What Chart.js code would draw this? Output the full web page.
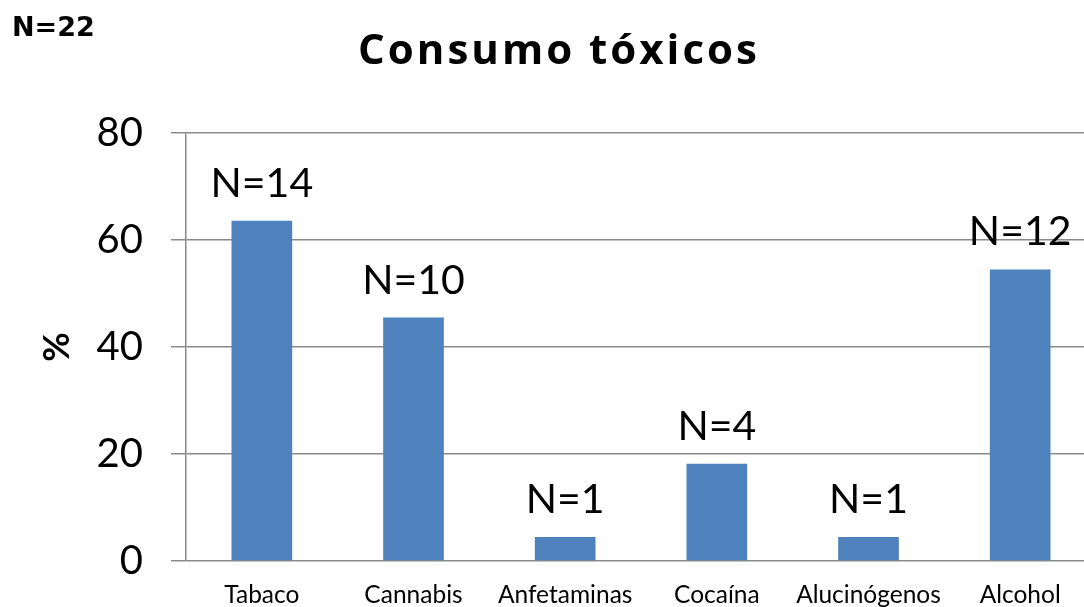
<!DOCTYPE html>
<html>
<head>
<meta charset="utf-8">
<script src="https://cdn.jsdelivr.net/npm/chart.js@4"></script>
<style>
  html, body { margin: 0; padding: 0; background: #fff; overflow: hidden; }
  #contenedor { position: relative; width: 1084px; height: 607px; overflow: hidden; }
  #grafico { display: block; }
</style>
</head>
<body>
<div id="contenedor"><canvas id="grafico" width="1096" height="607"></canvas></div>
<script>
// Datos del gráfico
const categorias = ['Tabaco', 'Cannabis', 'Anfetaminas', 'Cocaína', 'Alucinógenos', 'Alcohol'];
const casos = [14, 10, 1, 4, 1, 12];
const porcentajes = [63.6, 45.5, 4.5, 18.2, 4.5, 54.5];
const totalN = 22;
const titulo = 'Consumo tóxicos';
const tituloEjeY = '%';

const colorBarra = '#4F81BD';
const colorRejilla = '#8a8a8a';

// Título, etiquetas "N=.." encima de cada barra y el "N=22" de la esquina
const etiquetasPlugin = {
    id: 'etiquetas',
    afterDatasetsDraw(chart) {
        const ctx = chart.ctx;
        const meta = chart.getDatasetMeta(0);
        ctx.save();
        ctx.fillStyle = '#000';
        ctx.font = '41px Lato';
        ctx.textAlign = 'center';
        ctx.textBaseline = 'alphabetic';
        meta.data.forEach((bar, i) => {
            ctx.fillText('N=' + casos[i], bar.x, bar.y - 24);
        });

        ctx.font = 'bold 27px "DejaVu Sans"';
        ctx.textAlign = 'left';
        ctx.fillText('N=' + totalN, 12, 36);

        ctx.font = 'bold 42px "Open Sans"';
        ctx.letterSpacing = '3px';
        ctx.textAlign = 'center';
        ctx.fillText(titulo, 559, 64);
        ctx.restore();
    }
};

new Chart(document.getElementById('grafico'), {
    type: 'bar',
    data: {
        labels: categorias,
        datasets: [{
            data: porcentajes,
            backgroundColor: colorBarra,
            borderWidth: 0,
            categoryPercentage: 1,
            barPercentage: 0.4
        }]
    },
    options: {
        responsive: false,
        animation: false,
        devicePixelRatio: 1,
        layout: { padding: { left: 22, right: 0, top: 133, bottom: 0 } },
        plugins: {
            legend: { display: false },
            tooltip: { enabled: false },
            title: { display: false }
        },
        scales: {
            x: {
                grid: { display: false, drawTicks: false },
                border: { display: false },
                ticks: {
                    color: '#000',
                    font: { family: 'Lato', size: 24.5 },
                    padding: 19,
                    maxRotation: 0,
                    autoSkip: false
                },
                afterFit: s => { s.height = 46; }
            },
            y: {
                min: 0,
                max: 80,
                ticks: {
                    stepSize: 20,
                    color: '#000',
                    font: { family: 'Lato', size: 40, lineHeight: 0.5 },
                    padding: 28
                },
                grid: { color: colorRejilla, lineWidth: 1.5, tickLength: 15 },
                border: { display: true, color: colorRejilla, width: 1.5 },
                title: {
                    display: true,
                    text: tituloEjeY,
                    color: '#000',
                    font: { family: 'Lato', size: 36, weight: 'bold' },
                    padding: { top: 14, bottom: 0 }
                },
                afterFit: s => { s.width = 164; }
            }
        }
    },
    plugins: [etiquetasPlugin]
});
</script>
</body>
</html>
